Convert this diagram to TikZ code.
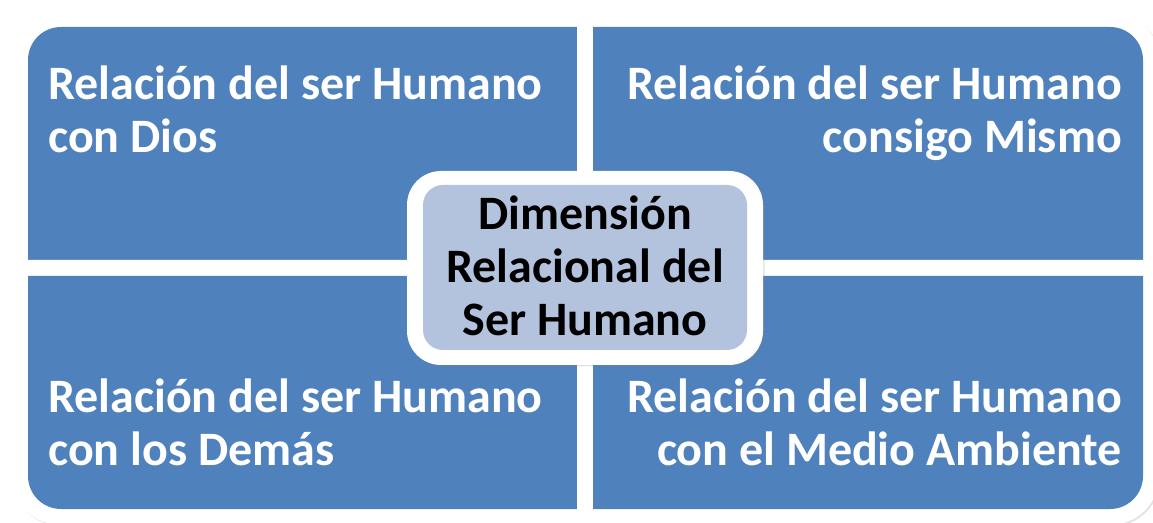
\documentclass[tikz,border=0pt]{standalone}
\usepackage{fontspec}
\setmainfont{Carlito}
\usetikzlibrary{shadows}
\definecolor{qblue}{HTML}{4F81BD}
\definecolor{cblue}{HTML}{B3C3DE}
\tikzset{
  frame/.style={fill=white, drop shadow={shadow xshift=1.5pt, shadow yshift=-1.5pt, opacity=0.22}},
  quad/.style={fill=qblue},
  qtext/.style={inner sep=0pt, text=white, font=\fontsize{48}{53}\selectfont\bfseries},
  ctext/.style={inner sep=0pt, text=black, align=center, font=\fontsize{48}{53}\selectfont\bfseries},
}
\begin{document}
\begin{tikzpicture}[x=1pt,y=1pt]
\useasboundingbox (0,0) rectangle (1153,522);
\clip (0,0) rectangle (1153,522);
% top-left
\fill[frame] (594,246) -- (12,246) -- (12,462) arc[start angle=180,end angle=90,radius=49] -- (594,511) -- cycle;
\fill[quad] (578,262) -- (28,262) -- (28,462) arc[start angle=180,end angle=90,radius=33] -- (578,495) -- cycle;
% top-right
\fill[frame] (577,246) -- (577,511) -- (1110,511) arc[start angle=90,end angle=0,radius=49] -- (1159,246) -- cycle;
\fill[quad] (593,262) -- (593,495) -- (1110,495) arc[start angle=90,end angle=0,radius=33] -- (1143,262) -- cycle;
% bottom-left
\fill[frame] (594,262) -- (12,262) -- (12,46) arc[start angle=180,end angle=270,radius=49] -- (594,-3) -- cycle;
\fill[quad] (578,246) -- (28,246) -- (28,46) arc[start angle=180,end angle=270,radius=33] -- (578,13) -- cycle;
% bottom-right
\fill[frame] (577,262) -- (1159,262) -- (1159,46) arc[start angle=0,end angle=-90,radius=49] -- (577,-3) -- cycle;
\fill[quad] (593,246) -- (1143,246) -- (1143,46) arc[start angle=0,end angle=-90,radius=33] -- (593,13) -- cycle;
% center
\fill[frame, rounded corners=34] (407,157) rectangle (763,351);
\fill[cblue, rounded corners=20] (423,172) rectangle (747,337);
% texts
\node[qtext, align=left, anchor=base west] (tl) at (48,369) {Relación del ser Humano\\con Dios};
\node[qtext, align=right, anchor=base east] (tr) at (1122,369) {Relación del ser Humano\\consigo Mismo};
\node[qtext, align=left, anchor=base west] (bl) at (48,57) {Relación del ser Humano\\con los Demás};
\node[qtext, align=right, anchor=base east] (br) at (1122,57) {Relación del ser Humano\\con el Medio Ambiente};
\node[ctext] (c) at (585,256) {Dimensión\\Relacional del\\Ser Humano};
\end{tikzpicture}
\end{document}
